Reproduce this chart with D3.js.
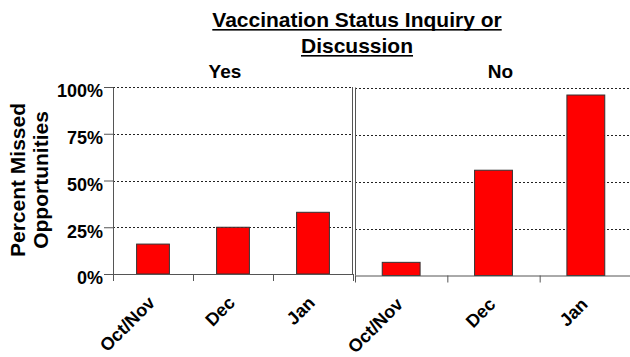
<!DOCTYPE html>
<html><head><meta charset="utf-8">
<script src="https://cdn.jsdelivr.net/npm/d3@7/dist/d3.min.js"></script>
<style>
body{margin:0;background:#fff;}
text{font-family:"Liberation Sans",Arial,Helvetica,sans-serif;font-weight:bold;fill:#000;}
</style>
</head><body>
<svg id="chart" width="630" height="357"></svg>
<script>
// ---- data ----
const titleLines = ["Vaccination Status Inquiry or", "Discussion"];
const yAxisTitle = ["Percent Missed", "Opportunities"];
const panelNames = ["Yes", "No"];
const categories = ["Oct/Nov", "Dec", "Jan"];
const yesValues = [16, 25, 33];
const noValues = [7, 56, 96];
const yTicks = [0, 25, 50, 75, 100];

// ---- layout ----
const svg = d3.select("#chart");
const W = 630, H = 357;
svg.append("rect").attr("width", W).attr("height", H).attr("fill", "#fff");

const panels = [
  {name: panelNames[0], values: yesValues, x0: 113, x1: 353, yBase: 274, yTop: 87, labelDx: -8},
  {name: panelNames[1], values: noValues,  x0: 355, x1: 632, yBase: 275.5, yTop: 87.5, labelDx: 7}
];

// title
const title = svg.append("g");
titleLines.forEach((t, i) => {
  const tx = title.append("text").attr("x", 357).attr("y", 27 + i * 26)
    .attr("text-anchor", "middle").style("font-size", "21px").text(t);
  const len = tx.node().getComputedTextLength();
  title.append("rect").attr("x", 357 - len / 2).attr("y", 27 + i * 26 + 2)
    .attr("width", len).attr("height", 1.6).attr("fill", "#000");
});

// y axis title
yAxisTitle.forEach((t, i) => {
  svg.append("text").attr("transform", `translate(${25 + i * 23},180) rotate(-90)`)
    .attr("text-anchor", "middle").style("font-size", "21px").text(t);
});

panels.forEach((p, pi) => {
  const y = d3.scaleLinear().domain([0, 100]).range([p.yBase, p.yTop]);
  const x = d3.scaleBand().domain(categories).range([p.x0, p.x1])
    .paddingInner(0.59).paddingOuter(0.295);
  const xb = d3.scaleLinear().domain([0, categories.length]).range([p.x0, p.x1]);
  const g = svg.append("g");

  // gridlines (dotted)
  g.selectAll("line.grid").data(yTicks.filter(d => d > 0)).join("line")
    .attr("class", "grid")
    .attr("x1", p.x0).attr("x2", p.x1)
    .attr("y1", d => Math.round(y(d)) + 0.5).attr("y2", d => Math.round(y(d)) + 0.5)
    .attr("stroke", "#222").attr("stroke-width", 1).attr("stroke-dasharray", "2,2");

  // bars
  g.selectAll("rect.bar").data(p.values).join("rect")
    .attr("class", "bar")
    .attr("x", (d, i) => x(categories[i]))
    .attr("width", x.bandwidth())
    .attr("y", d => y(d))
    .attr("height", d => y(0) - y(d))
    .attr("fill", "#ff0000").attr("stroke", "#333").attr("stroke-width", 1);

  // x axis with boundary ticks
  const xa = g.append("g").attr("transform", `translate(0,${p.yBase})`)
    .call(d3.axisBottom(xb).tickValues(d3.range(categories.length + 1)).tickFormat("").tickSize(7).tickSizeOuter(0));
  xa.select(".domain").attr("stroke", "#555");
  xa.selectAll(".tick line").attr("stroke", "#555");

  // y axis line
  if (pi === 0) {
    const ya = g.append("g").attr("transform", `translate(${p.x0},0)`)
      .call(d3.axisLeft(y).tickValues(yTicks).tickFormat(d => d + "%").tickSize(9).tickPadding(1).tickSizeOuter(0));
    ya.select(".domain").attr("stroke", "#555");
    ya.selectAll(".tick line").attr("stroke", "#555");
    ya.selectAll(".tick text").style("font-size", "18px").style("font-family", "'Liberation Sans',Arial,sans-serif")
      .style("font-weight", "bold").attr("fill", "#000").attr("dy", "0.55em");
    // right border of left panel
    g.append("line").attr("x1", p.x1 - 0.5).attr("x2", p.x1 - 0.5).attr("y1", p.yTop).attr("y2", p.yBase)
      .attr("stroke", "#555");
  } else {
    g.append("line").attr("x1", p.x0 + 0.5).attr("x2", p.x0 + 0.5).attr("y1", p.yTop).attr("y2", p.yBase)
      .attr("stroke", "#555");
  }

  // panel label
  svg.append("text").attr("x", (p.x0 + p.x1) / 2 + p.labelDx).attr("y", 78)
    .attr("text-anchor", "middle").style("font-size", "19px").text(p.name);

  // category labels rotated
  g.selectAll("text.cat").data(categories).join("text")
    .attr("class", "cat")
    .attr("text-anchor", "end")
    .attr("transform", d => `translate(${x(d) + x.bandwidth() / 2 + 3},${p.yBase + 30}) rotate(-45)`)
    .style("font-size", "18px").text(d => d);
});
</script>
</body></html>
